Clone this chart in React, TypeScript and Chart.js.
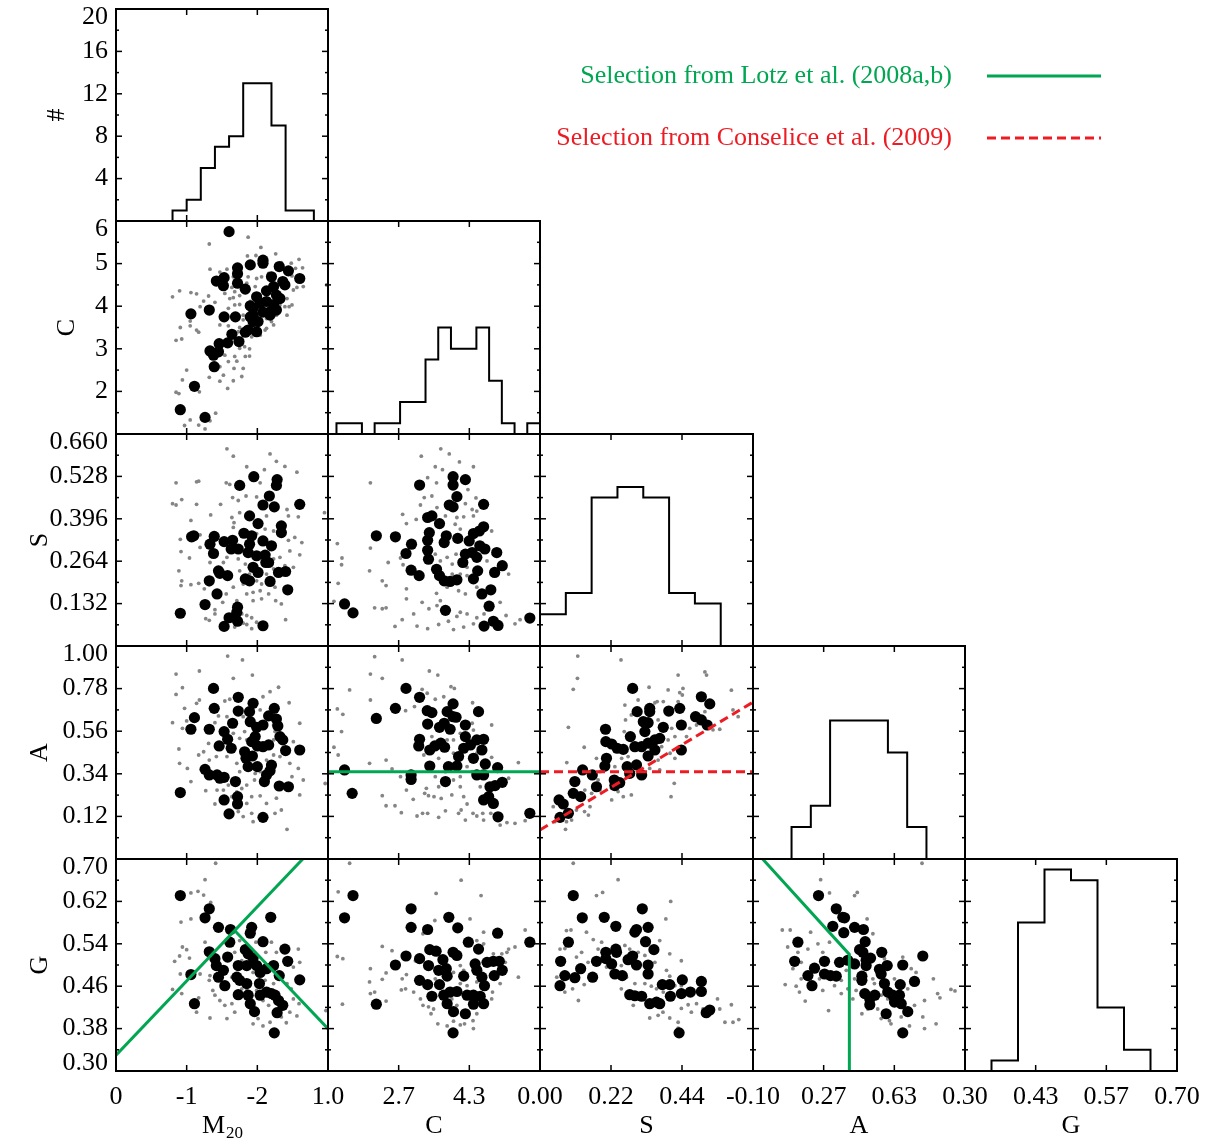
import React, { useEffect, useRef } from "react";
import { Chart, registerables } from "chart.js";
Chart.register(...registerables);

type Pair = [number, number];

const FONT_FAMILY = "'Liberation Serif', 'Times New Roman', Times, serif";
const LABEL_SIZE = 26;
const TITLE_SIZE = 26;
const TEXT_STRETCH = 1.0;
const GREEN = "#00a651";
const RED = "#ed1c24";
const GRAY = "#858585";

const COL_EDGES = [116, 328, 540, 753, 965, 1177];
const ROW_EDGES = [9, 221, 434, 646, 859, 1071];
const YTITLE_X = [57, 67, 40, 40, 40];

// ---- axes ----
const M20_TICKS = [0, -1, -2, -3];
const M20_TICK_LABELS = ["0", "-1", "-2", ""];
const C_X_TICKS = [1, 8 / 3, 13 / 3, 6];
const C_X_TICK_LABELS = ["1.0", "2.7", "4.3", ""];
const S_X_TICKS = [0, 0.22, 0.44, 0.66];
const S_X_TICK_LABELS = ["0.00", "0.22", "0.44", ""];
const A_X_TICKS = [-0.1, 0.8 / 3, 1.9 / 3, 1.0];
const A_X_TICK_LABELS = ["-0.10", "0.27", "0.63", ""];
const G_X_TICKS = [0.3, 1.3 / 3, 1.7 / 3, 0.7];
const G_X_TICK_LABELS = ["0.30", "0.43", "0.57", "0.70"];

const COUNT_Y_TICKS = [4, 8, 12, 16, 20];
const COUNT_Y_LABELS = ["4", "8", "12", "16", "20"];
const COUNT_Y_MINOR = [2, 6, 10, 14, 18];
const C_Y_TICKS = [2, 3, 4, 5, 6];
const C_Y_LABELS = ["2", "3", "4", "5", "6"];
const C_Y_MINOR = [1.5, 2.5, 3.5, 4.5, 5.5];
const S_Y_TICKS = [0.132, 0.264, 0.396, 0.528, 0.66];
const S_Y_LABELS = ["0.132", "0.264", "0.396", "0.528", "0.660"];
const S_Y_MINOR = [0.066, 0.198, 0.33, 0.462, 0.594];
const A_Y_TICKS = [0.12, 0.34, 0.56, 0.78, 1.0];
const A_Y_LABELS = ["0.12", "0.34", "0.56", "0.78", "1.00"];
const A_Y_MINOR = [0.01, 0.23, 0.45, 0.67, 0.89];
const G_Y_TICKS = [0.3, 0.38, 0.46, 0.54, 0.62, 0.7];
const G_Y_LABELS = ["0.30", "0.38", "0.46", "0.54", "0.62", "0.70"];
const G_Y_MINOR = [0.34, 0.42, 0.5, 0.58, 0.66];

const AXES: Record<string, any> = {
  M20: { min: -3, max: 0, reverse: true, xTicks: M20_TICKS, xLabels: M20_TICK_LABELS },
  C: { min: 1, max: 6, xTicks: C_X_TICKS, xLabels: C_X_TICK_LABELS, yTicks: C_Y_TICKS, yLabels: C_Y_LABELS, yMinor: C_Y_MINOR },
  S: { min: 0, max: 0.66, xTicks: S_X_TICKS, xLabels: S_X_TICK_LABELS, yTicks: S_Y_TICKS, yLabels: S_Y_LABELS, yMinor: S_Y_MINOR },
  A: { min: -0.1, max: 1.0, xTicks: A_X_TICKS, xLabels: A_X_TICK_LABELS, yTicks: A_Y_TICKS, yLabels: A_Y_LABELS, yMinor: A_Y_MINOR },
  G: { min: 0.3, max: 0.7, xTicks: G_X_TICKS, xLabels: G_X_TICK_LABELS, yTicks: G_Y_TICKS, yLabels: G_Y_LABELS, yMinor: G_Y_MINOR },
  "#": { min: 0, max: 20, yTicks: COUNT_Y_TICKS, yLabels: COUNT_Y_LABELS, yMinor: COUNT_Y_MINOR },
};
const COL_VARS = ["M20", "C", "S", "A", "G"];
const ROW_VARS = ["#", "C", "S", "A", "G"];
const Y_TITLES = ["#", "C", "S", "A", "G"];
const X_TITLES = ["M", "C", "S", "A", "G"];

// ---- histograms (black sample) ----
const M20_HIST_START = -0.8, M20_HIST_STEP = -0.2;
const M20_HIST_COUNTS = [1, 2, 5, 7, 8, 13, 13, 9, 1, 1];
const C_HIST_START = 1.2, C_HIST_STEP = 0.3;
const C_HIST_COUNTS = [1, 1, 0, 1, 1, 3, 3, 7, 10, 8, 8, 10, 5, 1, 0, 1];
const S_HIST_START = 0, S_HIST_STEP = 0.08;
const S_HIST_COUNTS = [3, 5, 14, 15, 14, 5, 4];
const A_HIST_START = 0.1, A_HIST_STEP = 0.1;
const A_HIST_COUNTS = [3, 5, 13, 13, 13, 10, 3];
const G_HIST_START = 0.35, G_HIST_STEP = 0.05;
const G_HIST_COUNTS = [1, 14, 19, 18, 6, 2];

// ---- selection criteria ----
const LOTZ_GM20_MERGER = { slope: -0.14, intercept: 0.33 };
const LOTZ_GM20_TYPE = { slope: 0.14, intercept: 0.8 };
const LOTZ_A_CUT = 0.35;
const LOTZ_GA = { slope: -0.4, intercept: 0.68, aCut: 0.4 };
const CONSELICE_A_CUT = 0.35;
const CONSELICE_AS = { slope: 1.0, intercept: 0.05 };

// ---- scatter data [x, y] ----
const C_M20_BLACK: Pair[] = [[-1.60,5.75],[-1.06,3.82],[-0.91,1.57],[-1.11,2.12],[-1.26,1.39],[-1.32,3.91],[-1.39,2.58],[-1.33,2.95],[-1.38,2.85],[-1.46,3.12],[-1.45,2.93],[-1.53,3.75],[-1.69,3.75],[-1.58,3.14],[-1.64,3.34],[-1.74,3.17],[-1.42,4.59],[-1.53,4.67],[-1.52,4.48],[-1.72,4.90],[-1.72,4.76],[-1.72,4.54],[-1.83,4.40],[-1.90,4.97],[-2.08,5.08],[-2.08,5.01],[-2.31,4.93],[-2.44,4.83],[-2.60,4.65],[-2.20,4.69],[-2.36,4.58],[-2.39,4.50],[-2.23,4.46],[-2.13,4.36],[-1.99,4.22],[-2.27,4.26],[-1.90,4.01],[-1.94,3.95],[-1.90,3.75],[-1.94,3.64],[-2.01,3.64],[-1.87,3.44],[-1.99,3.40],[-1.83,3.39],[-2.08,3.86],[-2.18,3.87],[-2.27,3.91],[-2.13,4.11],[-2.23,4.04],[-2.32,4.18],[-1.94,3.79],[-2.18,3.79],[-2.04,4.07]];
const C_M20_GRAY: Pair[] = [[-1.87,5.62],[-1.32,5.46],[-2.05,5.38],[-2.26,5.23],[-1.86,5.18],[-1.98,5.19],[-2.34,5.02],[-2.48,5.01],[-2.59,5.10],[-2.64,4.90],[-2.54,4.89],[-1.33,4.87],[-1.57,4.87],[-1.47,4.80],[-1.66,4.69],[-1.87,4.69],[-1.99,4.65],[-2.06,4.69],[-2.18,4.65],[-2.49,4.71],[-2.98,4.50],[-0.90,4.36],[-1.06,4.32],[-1.14,4.29],[-0.80,4.22],[-1.31,4.24],[-1.40,4.09],[-1.24,4.12],[-1.66,4.20],[-1.75,4.25],[-1.19,3.99],[-1.05,3.65],[-0.91,3.50],[-1.05,3.54],[-1.14,3.44],[-1.17,3.39],[-0.85,3.20],[-0.93,3.23],[-1.47,3.56],[-1.59,3.54],[-1.75,3.50],[-1.80,3.79],[-1.68,4.03],[-1.61,4.18],[-1.75,4.04],[-2.20,3.64],[-2.13,3.48],[-2.42,4.18],[-2.39,3.99],[-2.45,3.99],[-2.56,4.44],[-2.65,4.46],[-2.51,4.38],[-1.00,2.50],[-0.94,2.27],[-1.18,1.99],[-0.89,1.95],[-0.85,1.98],[-1.05,1.33],[-0.97,1.20],[-1.17,1.21],[-1.26,1.12],[-1.33,1.31],[-1.41,1.49],[-1.32,2.33],[-1.47,2.24],[-1.58,2.07],[-1.66,2.25],[-1.78,2.35],[-1.67,2.54],[-1.80,2.54],[-1.71,2.71],[-1.59,2.70],[-1.89,2.83],[-1.83,2.82],[-1.68,2.82],[-1.54,2.85],[-1.47,2.58],[-1.75,3.01],[-1.82,3.05],[-1.89,3.00],[-1.52,2.38],[-2.34,4.26],[-2.25,4.18],[-2.01,4.03],[-1.80,3.68],[-1.73,3.40],[-1.92,3.28],[-2.04,3.32],[-2.11,3.44],[-2.23,3.56],[-2.42,3.79],[-2.49,4.03],[-1.85,4.54],[-1.64,4.44],[-1.68,4.34],[-1.54,4.30],[-1.59,3.95],[-1.97,4.46],[-2.16,4.77],[-2.11,4.07],[-1.90,4.11],[-1.99,3.79],[-2.04,3.64],[-2.13,3.71],[-2.32,4.03],[-2.27,3.79],[-1.92,3.56],[-1.85,3.40]];

const S_M20_BLACK: Pair[] = [[-1.95,0.527],[-1.75,0.500],[-2.28,0.518],[-2.27,0.500],[-2.17,0.467],[-2.08,0.439],[-2.24,0.433],[-2.60,0.441],[-1.89,0.405],[-2.01,0.381],[-2.34,0.374],[-2.34,0.353],[-1.07,0.340],[-1.10,0.343],[-1.39,0.341],[-1.33,0.317],[-1.53,0.325],[-1.65,0.329],[-1.38,0.288],[-1.63,0.302],[-1.73,0.302],[-1.81,0.351],[-1.92,0.343],[-1.89,0.317],[-2.08,0.327],[-2.20,0.312],[-1.87,0.291],[-1.99,0.281],[-2.11,0.283],[-2.16,0.260],[-1.94,0.245],[-2.01,0.229],[-1.45,0.234],[-1.47,0.226],[-1.58,0.219],[-1.83,0.209],[-1.89,0.203],[-1.32,0.203],[-2.18,0.201],[-2.30,0.229],[-2.40,0.232],[-2.43,0.175],[-1.43,0.162],[-1.26,0.129],[-0.91,0.102],[-1.72,0.121],[-1.71,0.105],[-1.60,0.088],[-1.72,0.077],[-1.53,0.061],[-2.08,0.063],[-2.12,0.260]];
const S_M20_GRAY: Pair[] = [[-1.57,0.614],[-1.66,0.591],[-2.18,0.598],[-2.27,0.575],[-2.39,0.559],[-2.56,0.541],[-1.85,0.558],[-2.10,0.549],[-0.85,0.508],[-1.14,0.511],[-1.17,0.513],[-1.56,0.508],[-1.61,0.503],[-2.04,0.508],[-0.93,0.456],[-0.80,0.443],[-0.85,0.439],[-1.14,0.441],[-1.48,0.441],[-1.65,0.462],[-1.73,0.453],[-1.84,0.467],[-1.99,0.464],[-1.06,0.391],[-1.34,0.408],[-1.64,0.400],[-1.75,0.415],[-2.13,0.405],[-2.42,0.425],[-2.44,0.405],[-2.58,0.402],[-0.91,0.332],[-1.19,0.346],[-1.66,0.369],[-1.67,0.384],[-1.99,0.350],[-2.11,0.364],[-2.44,0.329],[-2.53,0.338],[-2.63,0.322],[-2.60,0.284],[-2.46,0.296],[-1.04,0.274],[-0.92,0.294],[-1.19,0.307],[-1.33,0.260],[-1.52,0.260],[-1.57,0.276],[-1.73,0.271],[-1.83,0.255],[-2.16,0.286],[-2.23,0.271],[-2.32,0.276],[-2.39,0.250],[-2.51,0.245],[-0.89,0.234],[-0.93,0.203],[-0.92,0.188],[-1.06,0.191],[-1.17,0.195],[-1.25,0.178],[-1.32,0.191],[-1.66,0.183],[-1.80,0.193],[-1.94,0.167],[-2.04,0.172],[-2.16,0.162],[-2.06,0.147],[-2.26,0.141],[-2.34,0.131],[-1.94,0.141],[-1.56,0.162],[-1.40,0.113],[-1.51,0.136],[-1.27,0.085],[-1.32,0.080],[-1.78,0.100],[-1.85,0.095],[-1.92,0.088],[-1.75,0.085],[-1.80,0.071],[-1.85,0.067],[-1.92,0.054],[-1.68,0.059],[-1.99,0.074],[-2.40,0.082],[-1.40,0.100],[-1.71,0.141],[-1.85,0.162],[-1.99,0.203],[-2.13,0.224],[-2.23,0.240],[-1.89,0.224],[-1.75,0.234],[-2.06,0.193],[-2.25,0.183],[-2.16,0.317],[-2.23,0.358],[-2.95,0.415]];

const S_C_BLACK: Pair[] = [[1.39,0.131],[1.59,0.103],[2.14,0.343],[2.59,0.340],[2.97,0.317],[2.84,0.288],[2.96,0.236],[3.15,0.219],[3.16,0.501],[3.95,0.527],[3.95,0.501],[4.24,0.518],[4.04,0.465],[3.86,0.439],[3.95,0.433],[4.67,0.441],[3.35,0.400],[3.45,0.405],[3.63,0.381],[3.39,0.353],[3.35,0.329],[3.79,0.343],[3.74,0.322],[4.06,0.335],[4.33,0.327],[4.43,0.350],[4.57,0.358],[4.67,0.371],[3.35,0.298],[3.37,0.270],[4.58,0.312],[4.70,0.302],[4.98,0.291],[4.24,0.286],[4.40,0.291],[4.51,0.276],[4.18,0.260],[3.56,0.239],[3.63,0.219],[3.74,0.203],[3.88,0.201],[4.04,0.206],[4.53,0.234],[4.43,0.209],[4.93,0.229],[5.11,0.250],[4.84,0.175],[4.63,0.162],[4.80,0.124],[3.77,0.111],[4.68,0.062],[4.90,0.077],[5.01,0.064],[5.76,0.087]];
const S_C_GRAY: Pair[] = [[3.66,0.614],[3.86,0.598],[3.20,0.591],[4.10,0.573],[4.43,0.558],[3.53,0.558],[3.70,0.549],[2.00,0.508],[3.35,0.524],[3.56,0.508],[4.30,0.487],[3.45,0.467],[3.27,0.462],[4.49,0.461],[3.18,0.439],[3.57,0.431],[4.24,0.443],[4.40,0.425],[4.51,0.420],[2.76,0.410],[3.08,0.394],[3.77,0.405],[4.04,0.400],[4.20,0.402],[4.43,0.405],[4.00,0.379],[4.12,0.364],[4.86,0.358],[2.85,0.381],[1.22,0.319],[2.00,0.305],[2.71,0.274],[2.77,0.253],[2.42,0.260],[1.33,0.274],[1.32,0.253],[1.98,0.234],[2.28,0.203],[2.37,0.188],[1.24,0.195],[1.14,0.139],[2.10,0.119],[2.28,0.116],[2.37,0.119],[2.85,0.178],[2.85,0.147],[3.02,0.100],[3.22,0.136],[3.38,0.116],[3.56,0.164],[3.57,0.126],[2.58,0.061],[2.75,0.082],[3.10,0.062],[3.35,0.054],[3.61,0.067],[3.84,0.077],[4.04,0.092],[3.96,0.051],[4.20,0.059],[4.12,0.105],[4.28,0.100],[4.43,0.069],[4.51,0.088],[4.68,0.100],[5.06,0.136],[5.20,0.095],[5.41,0.069],[5.53,0.082],[3.81,0.276],[3.93,0.255],[4.12,0.224],[4.28,0.245],[4.02,0.286],[3.65,0.265],[3.53,0.286],[4.08,0.172],[4.24,0.162],[4.51,0.183],[3.81,0.183],[3.65,0.141],[4.75,0.265],[4.90,0.286],[5.26,0.224],[4.28,0.219],[3.93,0.224]];

const A_M20_BLACK: Pair[] = [[-1.38,0.781],[-1.73,0.735],[-1.39,0.678],[-1.73,0.664],[-1.94,0.704],[-1.89,0.661],[-1.11,0.630],[-1.06,0.570],[-1.32,0.570],[-1.65,0.601],[-1.90,0.609],[-1.99,0.580],[-2.08,0.592],[-2.24,0.678],[-2.16,0.639],[-2.27,0.623],[-2.29,0.587],[-1.53,0.558],[-1.58,0.518],[-1.46,0.484],[-1.63,0.472],[-1.97,0.532],[-1.92,0.506],[-2.00,0.484],[-2.08,0.480],[-2.16,0.489],[-2.32,0.532],[-2.36,0.515],[-2.40,0.460],[-2.60,0.463],[-1.82,0.454],[-1.84,0.420],[-1.93,0.432],[-1.87,0.377],[-2.00,0.377],[-2.20,0.385],[-2.18,0.356],[-2.13,0.334],[-2.10,0.300],[-1.26,0.363],[-1.32,0.334],[-1.43,0.334],[-1.47,0.317],[-1.53,0.322],[-1.69,0.300],[-2.31,0.277],[-2.44,0.273],[-0.91,0.243],[-1.53,0.205],[-1.72,0.222],[-1.72,0.184],[-1.60,0.133],[-2.08,0.115]];
const A_M20_GRAY: Pair[] = [[-1.58,0.948],[-1.79,0.928],[-0.85,0.855],[-1.18,0.871],[-1.66,0.833],[-1.93,0.850],[-0.94,0.785],[-0.85,0.750],[-2.30,0.787],[-2.18,0.764],[-2.45,0.707],[-1.18,0.721],[-1.14,0.704],[-0.97,0.678],[-1.54,0.716],[-1.61,0.725],[-2.08,0.738],[-0.80,0.604],[-1.00,0.613],[-0.94,0.575],[-0.89,0.468],[-0.90,0.394],[-1.01,0.368],[-1.06,0.300],[-1.17,0.437],[-1.32,0.411],[-1.27,0.253],[-1.40,0.184],[-1.59,0.282],[-1.64,0.222],[-1.71,0.247],[-1.78,0.264],[-1.85,0.282],[-1.96,0.308],[-2.04,0.226],[-1.92,0.222],[-1.85,0.187],[-1.92,0.136],[-1.94,0.093],[-1.80,0.119],[-1.73,0.145],[-2.13,0.187],[-2.25,0.136],[-2.34,0.153],[-2.42,0.053],[-2.49,0.325],[-2.60,0.231],[-2.58,0.368],[-2.46,0.394],[-2.60,0.601],[-2.51,0.506],[-2.42,0.471],[-2.32,0.429],[-2.23,0.437],[-2.25,0.558],[-2.23,0.592],[-2.04,0.670],[-1.80,0.635],[-1.82,0.558],[-1.85,0.515],[-1.75,0.523],[-1.66,0.549],[-1.57,0.635],[-1.45,0.639],[-1.40,0.604],[-1.31,0.497],[-1.24,0.454],[-1.42,0.429],[-1.57,0.429],[-1.71,0.394],[-1.75,0.351],[-1.97,0.342],[-2.04,0.351],[-2.13,0.411],[-2.23,0.515],[-1.43,0.256],[-1.52,0.256],[-2.65,0.308],[-2.27,0.214],[-2.96,0.290]];

const A_C_BLACK: Pair[] = [[2.84,0.781],[3.16,0.735],[2.59,0.678],[2.14,0.626],[3.34,0.666],[3.45,0.656],[3.95,0.701],[3.81,0.661],[4.55,0.661],[3.95,0.635],[4.02,0.632],[3.35,0.597],[3.63,0.580],[3.74,0.601],[3.88,0.570],[4.24,0.592],[3.16,0.518],[3.14,0.484],[3.40,0.463],[3.52,0.484],[3.66,0.498],[3.75,0.477],[4.24,0.532],[4.20,0.472],[4.36,0.489],[4.51,0.515],[4.67,0.518],[4.63,0.463],[4.08,0.429],[4.43,0.420],[4.71,0.391],[5.00,0.372],[3.40,0.380],[3.84,0.377],[4.04,0.380],[2.96,0.334],[2.96,0.311],[3.77,0.300],[4.51,0.334],[4.67,0.334],[5.11,0.296],[4.82,0.273],[4.94,0.279],[4.79,0.222],[4.67,0.205],[4.90,0.187],[5.01,0.118],[5.76,0.136],[1.39,0.360],[1.57,0.239]];
const A_C_GRAY: Pair[] = [[2.10,0.945],[2.75,0.928],[2.00,0.855],[2.28,0.833],[3.39,0.871],[3.59,0.850],[1.51,0.773],[2.00,0.721],[1.22,0.675],[1.35,0.647],[1.32,0.558],[1.14,0.477],[1.24,0.437],[1.98,0.394],[2.37,0.411],[2.51,0.365],[2.71,0.325],[2.85,0.256],[2.28,0.227],[2.37,0.175],[2.58,0.175],[2.73,0.139],[3.01,0.208],[3.10,0.122],[3.23,0.136],[3.35,0.136],[2.83,0.666],[3.04,0.687],[3.22,0.776],[3.34,0.756],[3.53,0.725],[3.73,0.738],[3.90,0.790],[3.98,0.781],[4.41,0.707],[4.40,0.601],[4.43,0.566],[4.86,0.592],[3.45,0.532],[3.26,0.437],[3.61,0.420],[3.53,0.325],[3.77,0.351],[3.61,0.273],[3.32,0.265],[3.28,0.239],[3.37,0.227],[3.50,0.222],[3.67,0.213],[3.77,0.149],[3.61,0.115],[3.92,0.231],[4.12,0.273],[4.20,0.222],[4.28,0.184],[4.14,0.153],[4.24,0.101],[4.08,0.136],[4.42,0.136],[4.51,0.122],[4.65,0.136],[4.67,0.101],[4.84,0.136],[5.06,0.075],[5.22,0.088],[5.41,0.084],[5.65,0.098],[5.26,0.317],[5.49,0.398],[4.86,0.425],[3.96,0.515],[4.12,0.549],[4.32,0.506],[4.51,0.446],[3.96,0.446],[3.81,0.515],[4.28,0.377],[4.40,0.351],[3.96,0.308],[4.12,0.325],[4.59,0.273]];

const A_S_BLACK: Pair[] = [[0.287,0.781],[0.301,0.661],[0.340,0.678],[0.340,0.661],[0.320,0.609],[0.335,0.604],[0.325,0.558],[0.382,0.580],[0.399,0.664],[0.433,0.678],[0.438,0.592],[0.482,0.635],[0.500,0.738],[0.526,0.701],[0.500,0.618],[0.518,0.592],[0.203,0.570],[0.204,0.506],[0.222,0.494],[0.239,0.472],[0.258,0.466],[0.280,0.532],[0.294,0.480],[0.315,0.480],[0.335,0.498],[0.356,0.515],[0.371,0.523],[0.335,0.432],[0.356,0.463],[0.438,0.463],[0.206,0.420],[0.201,0.380],[0.270,0.377],[0.299,0.386],[0.278,0.342],[0.315,0.334],[0.132,0.360],[0.162,0.334],[0.108,0.300],[0.175,0.273],[0.230,0.308],[0.232,0.279],[0.247,0.294],[0.103,0.239],[0.126,0.222],[0.059,0.205],[0.072,0.184],[0.088,0.136],[0.062,0.115]];
const A_S_GRAY: Pair[] = [[0.117,0.948],[0.251,0.928],[0.116,0.833],[0.103,0.776],[0.428,0.850],[0.511,0.866],[0.338,0.787],[0.443,0.781],[0.593,0.772],[0.441,0.747],[0.382,0.713],[0.428,0.713],[0.304,0.721],[0.263,0.695],[0.265,0.618],[0.283,0.644],[0.261,0.558],[0.088,0.580],[0.137,0.477],[0.175,0.420],[0.083,0.398],[0.186,0.351],[0.356,0.707],[0.366,0.618],[0.408,0.575],[0.397,0.515],[0.418,0.532],[0.454,0.532],[0.464,0.575],[0.485,0.592],[0.511,0.661],[0.536,0.567],[0.557,0.570],[0.614,0.635],[0.598,0.670],[0.516,0.850],[0.433,0.759],[0.397,0.773],[0.363,0.713],[0.377,0.480],[0.403,0.446],[0.418,0.420],[0.366,0.411],[0.371,0.360],[0.340,0.368],[0.416,0.291],[0.406,0.222],[0.283,0.231],[0.242,0.248],[0.222,0.265],[0.186,0.256],[0.160,0.239],[0.139,0.256],[0.155,0.170],[0.138,0.145],[0.150,0.127],[0.113,0.153],[0.098,0.101],[0.079,0.053],[0.082,0.093],[0.046,0.093],[0.041,0.170],[0.273,0.429],[0.253,0.420],[0.232,0.377],[0.180,0.308],[0.222,0.205],[0.258,0.222]];

const G_M20_BLACK: Pair[] = [[-0.91,0.631],[-1.32,0.606],[-1.26,0.589],[-1.45,0.571],[-1.62,0.567],[-1.61,0.543],[-1.92,0.571],[-1.90,0.560],[-2.19,0.590],[-2.08,0.544],[-1.32,0.525],[-1.40,0.512],[-1.58,0.515],[-1.42,0.499],[-1.52,0.490],[-1.45,0.477],[-1.54,0.461],[-1.73,0.499],[-1.83,0.529],[-1.87,0.521],[-1.94,0.513],[-1.85,0.499],[-1.99,0.499],[-2.04,0.486],[-2.13,0.493],[-2.23,0.499],[-1.71,0.477],[-1.75,0.471],[-1.73,0.444],[-1.85,0.465],[-2.03,0.465],[-1.87,0.443],[-1.90,0.427],[-1.96,0.412],[-2.04,0.443],[-2.13,0.449],[-2.20,0.446],[-2.25,0.443],[-2.30,0.433],[-2.36,0.424],[-2.28,0.410],[-2.31,0.480],[-2.39,0.530],[-2.43,0.507],[-2.60,0.472],[-1.06,0.482],[-1.11,0.427],[-2.24,0.372]];
const G_M20_GRAY: Pair[] = [[-1.41,0.692],[-1.26,0.661],[-1.06,0.636],[-1.16,0.639],[-1.24,0.632],[-0.92,0.581],[-1.06,0.587],[-1.34,0.618],[-0.83,0.507],[-0.90,0.517],[-0.94,0.534],[-1.00,0.529],[-1.04,0.513],[-0.91,0.483],[-0.80,0.454],[-0.93,0.446],[-1.17,0.438],[-1.14,0.411],[-1.33,0.480],[-1.32,0.471],[-1.37,0.452],[-1.40,0.443],[-1.47,0.433],[-1.54,0.424],[-1.64,0.427],[-1.68,0.411],[-1.33,0.400],[-1.57,0.399],[-1.71,0.443],[-1.78,0.455],[-1.85,0.452],[-1.99,0.452],[-2.08,0.433],[-2.16,0.424],[-2.01,0.399],[-1.94,0.389],[-2.08,0.385],[-2.18,0.392],[-2.34,0.402],[-2.41,0.391],[-2.46,0.411],[-2.56,0.404],[-2.59,0.427],[-2.51,0.436],[-2.48,0.455],[-2.58,0.530],[-2.60,0.505],[-2.51,0.496],[-2.34,0.474],[-2.20,0.543],[-2.12,0.524],[-2.27,0.524],[-1.98,0.543],[-1.68,0.524],[-1.75,0.546],[-1.19,0.483],[-1.26,0.543],[-2.42,0.465],[-2.23,0.465],[-2.11,0.471],[-1.94,0.486],[-1.64,0.477],[-1.78,0.508],[-2.97,0.414]];

const G_C_BLACK: Pair[] = [[1.59,0.631],[1.39,0.589],[2.96,0.606],[2.96,0.571],[3.35,0.567],[3.85,0.590],[4.06,0.570],[5.00,0.560],[5.76,0.543],[4.31,0.543],[4.55,0.530],[2.59,0.500],[2.84,0.517],[3.16,0.512],[3.40,0.529],[3.55,0.526],[3.37,0.499],[3.71,0.510],[3.95,0.524],[4.04,0.518],[3.79,0.493],[3.81,0.479],[3.61,0.490],[3.16,0.471],[3.35,0.463],[3.63,0.463],[3.45,0.441],[3.73,0.443],[3.88,0.449],[4.04,0.450],[4.20,0.479],[4.47,0.502],[4.51,0.490],[4.63,0.477],[4.69,0.461],[4.75,0.505],[4.90,0.507],[5.04,0.507],[4.92,0.480],[5.11,0.490],[4.28,0.443],[4.43,0.443],[4.59,0.441],[4.43,0.426],[4.67,0.427],[3.81,0.427],[3.96,0.412],[4.24,0.408],[3.95,0.372],[2.14,0.426]];
const G_C_GRAY: Pair[] = [[1.51,0.692],[1.24,0.638],[3.55,0.635],[4.14,0.660],[4.61,0.631],[4.35,0.587],[3.52,0.584],[3.24,0.559],[4.67,0.562],[5.65,0.566],[5.26,0.530],[5.41,0.534],[2.28,0.535],[2.51,0.527],[1.22,0.516],[1.35,0.512],[2.00,0.493],[2.28,0.473],[1.98,0.468],[2.37,0.485],[2.75,0.474],[2.73,0.453],[2.83,0.455],[2.85,0.482],[2.00,0.446],[2.10,0.449],[2.37,0.432],[1.34,0.426],[3.06,0.508],[3.24,0.424],[3.37,0.421],[3.49,0.417],[3.43,0.408],[3.59,0.389],[3.81,0.385],[3.96,0.394],[4.12,0.387],[4.22,0.389],[4.42,0.395],[4.43,0.380],[4.51,0.408],[4.86,0.436],[4.88,0.449],[5.06,0.465],[5.18,0.505],[5.49,0.477],[5.22,0.524],[5.10,0.521],[4.90,0.521],[4.67,0.540],[4.51,0.546],[4.12,0.499],[4.20,0.490],[3.96,0.486],[4.28,0.461],[4.12,0.465],[4.35,0.449],[4.51,0.468],[3.92,0.436],[4.04,0.424],[3.92,0.405],[3.02,0.449],[3.18,0.436],[3.53,0.474]];

const G_S_BLACK: Pair[] = [[0.103,0.631],[0.131,0.589],[0.199,0.590],[0.235,0.573],[0.317,0.606],[0.335,0.571],[0.294,0.562],[0.299,0.567],[0.327,0.544],[0.353,0.529],[0.088,0.543],[0.064,0.507],[0.077,0.480],[0.062,0.461],[0.108,0.476],[0.126,0.493],[0.163,0.477],[0.175,0.507],[0.204,0.524],[0.204,0.512],[0.222,0.502],[0.235,0.530],[0.237,0.524],[0.232,0.483],[0.255,0.480],[0.273,0.510],[0.287,0.517],[0.299,0.500],[0.335,0.500],[0.335,0.483],[0.278,0.444],[0.294,0.442],[0.315,0.441],[0.340,0.427],[0.361,0.430],[0.371,0.427],[0.379,0.463],[0.402,0.463],[0.404,0.441],[0.441,0.472],[0.438,0.446],[0.466,0.449],[0.500,0.469],[0.500,0.450],[0.515,0.410],[0.526,0.415],[0.431,0.372]];
const G_S_GRAY: Pair[] = [[0.103,0.692],[0.242,0.661],[0.175,0.631],[0.194,0.637],[0.405,0.620],[0.390,0.587],[0.082,0.565],[0.096,0.566],[0.144,0.562],[0.062,0.530],[0.077,0.531],[0.067,0.480],[0.052,0.477],[0.062,0.455],[0.077,0.449],[0.119,0.433],[0.101,0.455],[0.137,0.463],[0.165,0.548],[0.180,0.530],[0.191,0.543],[0.129,0.524],[0.149,0.505],[0.113,0.515],[0.263,0.537],[0.278,0.530],[0.304,0.524],[0.371,0.546],[0.402,0.521],[0.438,0.508],[0.392,0.490],[0.418,0.461],[0.438,0.461],[0.402,0.479],[0.345,0.460],[0.325,0.465],[0.294,0.465],[0.268,0.477],[0.252,0.455],[0.289,0.424],[0.340,0.400],[0.366,0.405],[0.381,0.411],[0.402,0.400],[0.438,0.418],[0.459,0.425],[0.485,0.427],[0.469,0.411],[0.428,0.392],[0.428,0.381],[0.550,0.436],[0.557,0.417],[0.593,0.425],[0.573,0.392],[0.598,0.392],[0.616,0.397],[0.505,0.417],[0.361,0.455],[0.382,0.449],[0.206,0.496],[0.252,0.499],[0.325,0.518],[0.356,0.505]];

const G_A_BLACK: Pair[] = [[0.240,0.631],[0.332,0.606],[0.366,0.590],[0.375,0.589],[0.314,0.573],[0.371,0.561],[0.427,0.571],[0.473,0.567],[0.482,0.544],[0.453,0.529],[0.470,0.524],[0.568,0.524],[0.781,0.517],[0.133,0.543],[0.116,0.507],[0.219,0.494],[0.185,0.480],[0.206,0.461],[0.271,0.507],[0.271,0.483],[0.302,0.480],[0.332,0.479],[0.349,0.505],[0.392,0.509],[0.427,0.502],[0.487,0.509],[0.510,0.513],[0.487,0.499],[0.556,0.492],[0.596,0.499],[0.677,0.500],[0.465,0.479],[0.465,0.471],[0.565,0.483],[0.582,0.465],[0.664,0.463],[0.738,0.469],[0.480,0.446],[0.506,0.436],[0.532,0.443],[0.506,0.425],[0.599,0.449],[0.625,0.443],[0.634,0.430],[0.660,0.443],[0.669,0.427],[0.591,0.408],[0.703,0.412],[0.677,0.372]];
const G_A_GRAY: Pair[] = [[0.251,0.661],[0.297,0.636],[0.427,0.631],[0.441,0.637],[0.777,0.692],[0.522,0.559],[0.492,0.587],[0.052,0.566],[0.093,0.566],[0.199,0.562],[0.080,0.534],[0.133,0.524],[0.185,0.530],[0.237,0.540],[0.262,0.524],[0.297,0.543],[0.150,0.505],[0.107,0.493],[0.150,0.474],[0.067,0.463],[0.124,0.460],[0.141,0.449],[0.171,0.432],[0.206,0.490],[0.245,0.474],[0.262,0.452],[0.323,0.461],[0.358,0.471],[0.392,0.455],[0.418,0.436],[0.435,0.452],[0.384,0.490],[0.358,0.446],[0.292,0.414],[0.465,0.408],[0.496,0.417],[0.530,0.465],[0.547,0.417],[0.565,0.399],[0.608,0.395],[0.616,0.389],[0.669,0.402],[0.712,0.385],[0.703,0.411],[0.738,0.424],[0.790,0.433],[0.781,0.402],[0.790,0.380],[0.850,0.389],[0.870,0.438],[0.836,0.474],[0.858,0.446],[0.927,0.454],[0.948,0.451],[0.677,0.515],[0.721,0.493],[0.746,0.486],[0.582,0.512],[0.616,0.499],[0.634,0.474],[0.703,0.455],[0.599,0.436],[0.565,0.443],[0.522,0.474],[0.427,0.474]];

// ---------------------------------------------------------------
const toXY = (p: Pair[]) => p.map(([x, y]) => ({ x, y }));

function histPoints(start: number, step: number, counts: number[]) {
  const pts: { x: number; y: number }[] = [{ x: start, y: 0 }];
  counts.forEach((c, i) => pts.push({ x: start + i * step, y: c }));
  pts.push({ x: start + counts.length * step, y: 0 });
  return pts;
}

function lineSet(pts: Pair[], color: string, dash?: number[]) {
  return {
    type: "line", data: toXY(pts), borderColor: color, borderWidth: 3,
    borderDash: dash || [], pointRadius: 0, fill: false, tension: 0, borderCapStyle: "butt",
  };
}
function pointSets(gray: Pair[], black: Pair[]) {
  return [
    { type: "scatter", data: toXY(black), pointRadius: 5.6, pointBackgroundColor: "#000", pointBorderWidth: 0, pointHoverRadius: 5.6 },
    { type: "scatter", data: toXY(gray), pointRadius: 1.9, pointBackgroundColor: GRAY, pointBorderWidth: 0, pointHoverRadius: 1.9 },
  ];
}
function histSet(start: number, step: number, counts: number[]) {
  return [{ type: "line", data: histPoints(start, step, counts), stepped: "before", borderColor: "#000", borderWidth: 2, pointRadius: 0, fill: false }];
}

const gm20ApexX = (LOTZ_GM20_TYPE.intercept - LOTZ_GM20_MERGER.intercept) / (LOTZ_GM20_MERGER.slope - LOTZ_GM20_TYPE.slope);
const gm20TopX = (AXES.G.max - LOTZ_GM20_MERGER.intercept) / LOTZ_GM20_MERGER.slope;
const gaTopX = (AXES.G.max - LOTZ_GA.intercept) / LOTZ_GA.slope;

const PANELS: { row: number; col: number; datasets: any[] }[] = [
  { row: 0, col: 0, datasets: histSet(M20_HIST_START, M20_HIST_STEP, M20_HIST_COUNTS) },
  { row: 1, col: 0, datasets: pointSets(C_M20_GRAY, C_M20_BLACK) },
  { row: 1, col: 1, datasets: histSet(C_HIST_START, C_HIST_STEP, C_HIST_COUNTS) },
  { row: 2, col: 0, datasets: pointSets(S_M20_GRAY, S_M20_BLACK) },
  { row: 2, col: 1, datasets: pointSets(S_C_GRAY, S_C_BLACK) },
  { row: 2, col: 2, datasets: histSet(S_HIST_START, S_HIST_STEP, S_HIST_COUNTS) },
  { row: 3, col: 0, datasets: pointSets(A_M20_GRAY, A_M20_BLACK) },
  {
    row: 3, col: 1, datasets: [
      lineSet([[AXES.C.min, LOTZ_A_CUT], [AXES.C.max, LOTZ_A_CUT]], GREEN),
      ...pointSets(A_C_GRAY, A_C_BLACK)],
  },
  {
    row: 3, col: 2, datasets: [
      lineSet([[AXES.S.min, CONSELICE_A_CUT], [AXES.S.max, CONSELICE_A_CUT]], RED, [9, 5]),
      lineSet([[AXES.S.min, CONSELICE_AS.intercept + CONSELICE_AS.slope * AXES.S.min],
        [AXES.S.max, CONSELICE_AS.intercept + CONSELICE_AS.slope * AXES.S.max]], RED, [9, 5]),
      ...pointSets(A_S_GRAY, A_S_BLACK)],
  },
  { row: 3, col: 3, datasets: histSet(A_HIST_START, A_HIST_STEP, A_HIST_COUNTS) },
  {
    row: 4, col: 0, datasets: [
      lineSet([[0, LOTZ_GM20_MERGER.intercept], [gm20TopX, AXES.G.max]], GREEN),
      lineSet([[gm20ApexX, LOTZ_GM20_TYPE.slope * gm20ApexX + LOTZ_GM20_TYPE.intercept],
        [AXES.M20.min, LOTZ_GM20_TYPE.slope * AXES.M20.min + LOTZ_GM20_TYPE.intercept]], GREEN),
      ...pointSets(G_M20_GRAY, G_M20_BLACK)],
  },
  { row: 4, col: 1, datasets: pointSets(G_C_GRAY, G_C_BLACK) },
  { row: 4, col: 2, datasets: pointSets(G_S_GRAY, G_S_BLACK) },
  {
    row: 4, col: 3, datasets: [
      lineSet([[gaTopX, AXES.G.max], [LOTZ_GA.aCut, LOTZ_GA.slope * LOTZ_GA.aCut + LOTZ_GA.intercept], [LOTZ_GA.aCut, AXES.G.min]], GREEN),
      ...pointSets(G_A_GRAY, G_A_BLACK)],
  },
  { row: 4, col: 4, datasets: histSet(G_HIST_START, G_HIST_STEP, G_HIST_COUNTS) },
];

function drawText(ctx: CanvasRenderingContext2D, text: string, x: number, y: number, align: CanvasTextAlign,
  size: number, color = "#000", rotate = false) {
  ctx.save();
  ctx.translate(x, y);
  ctx.scale(TEXT_STRETCH, 1);
  if (rotate) ctx.rotate(-Math.PI / 2);
  ctx.font = `${size}px ${FONT_FAMILY}`;
  ctx.textAlign = align;
  ctx.textBaseline = "middle";
  ctx.fillStyle = color;
  ctx.fillText(text, 0, 0);
  ctx.restore();
}

function makePlugin(row: number, col: number, ox: number, oy: number) {
  const xv = COL_VARS[col];
  const yv = row === col ? "#" : ROW_VARS[row];
  return {
    id: `corner_${row}_${col}`,
    afterDatasetsDraw(chart: any) {
      const ctx: CanvasRenderingContext2D = chart.ctx;
      const a = chart.chartArea;
      const xs = chart.scales.x, ys = chart.scales.y;
      const xa = AXES[xv], ya = AXES[yv];
      ctx.save();
      ctx.strokeStyle = "#000";
      const seg = (x1: number, y1: number, x2: number, y2: number) => {
        ctx.beginPath(); ctx.moveTo(x1, y1); ctx.lineTo(x2, y2); ctx.stroke();
      };
      const inner = (v: number, ax: any) => Math.abs(v - ax.min) > 1e-6 && Math.abs(v - ax.max) > 1e-6;
      ctx.lineWidth = 1.5;
      for (const v of xa.xTicks) if (inner(v, xa)) {
        const px = xs.getPixelForValue(v);
        seg(px, a.bottom, px, a.bottom - 6); seg(px, a.top, px, a.top + 6);
      }
      for (const v of ya.yTicks) if (inner(v, ya)) {
        const py = ys.getPixelForValue(v);
        seg(a.left, py, a.left + 6, py); seg(a.right, py, a.right - 6, py);
      }
      for (const v of ya.yMinor) {
        const py = ys.getPixelForValue(v);
        seg(a.left, py, a.left + 3, py); seg(a.right, py, a.right - 3, py);
      }
      ctx.lineWidth = 2;
      ctx.strokeRect(a.left, a.top, a.right - a.left, a.bottom - a.top);

      if (col === 0) {
        const ly = AXES[ROW_VARS[row]];
        ly.yTicks.forEach((v: number, i: number) => {
          let py = ys.getPixelForValue(v);
          py = Math.max(py, a.top + 8);
          py = Math.min(py, a.bottom - 8);
          drawText(ctx, ly.yLabels[i], a.left - 8, py, "right", LABEL_SIZE);
        });
        drawText(ctx, Y_TITLES[row], YTITLE_X[row] - ox, (a.top + a.bottom) / 2, "center", TITLE_SIZE, "#000", true);
      }
      if (row === 4) {
        xa.xTicks.forEach((v: number, i: number) => {
          if (!xa.xLabels[i]) return;
          drawText(ctx, xa.xLabels[i], xs.getPixelForValue(v), a.bottom + 26, "center", LABEL_SIZE);
        });
        const cx = (a.left + a.right) / 2;
        const ty = a.bottom + 55;
        if (col === 0) {
          ctx.save();
          ctx.font = `${TITLE_SIZE}px ${FONT_FAMILY}`;
          const wM = ctx.measureText(X_TITLES[0]).width * TEXT_STRETCH;
          ctx.font = `17px ${FONT_FAMILY}`;
          const wS = ctx.measureText("20").width * TEXT_STRETCH;
          ctx.restore();
          const x0 = cx - (wM + wS) / 2;
          drawText(ctx, X_TITLES[0], x0, ty, "left", TITLE_SIZE);
          drawText(ctx, "20", x0 + wM + 1, ty + 8, "left", 17);
        } else {
          drawText(ctx, X_TITLES[col], cx, ty, "center", TITLE_SIZE);
        }
      }
      if (row === 0 && col === 0) {
        const items = [
          { text: "Selection from Lotz et al. (2008a,b)", color: GREEN, dash: [] as number[], y: 76 },
          { text: "Selection from Conselice et al. (2009)", color: RED, dash: [9, 5], y: 138 },
        ];
        for (const it of items) {
          drawText(ctx, it.text, 952 - ox, it.y - oy, "right", LABEL_SIZE, it.color);
          ctx.save();
          ctx.strokeStyle = it.color; ctx.lineWidth = 3; ctx.setLineDash(it.dash);
          seg(987 - ox, it.y - oy, 1101 - ox, it.y - oy);
          ctx.restore();
        }
      }
      ctx.restore();
    },
  };
}

function Panel({ row, col, datasets }: { row: number; col: number; datasets: any[] }) {
  const ref = useRef<HTMLCanvasElement>(null);
  const left = COL_EDGES[col], right = COL_EDGES[col + 1];
  const top = ROW_EDGES[row], bottom = ROW_EDGES[row + 1];
  const cx0 = col === 0 ? 0 : left - 40;
  const cy0 = row === 0 ? 0 : top - 40;
  const cx1 = row === 0 && col === 0 ? 1210 : right + 40;
  const cy1 = row === 4 ? 1142 : bottom + 40;
  const w = cx1 - cx0, h = cy1 - cy0;
  useEffect(() => {
    const xv = COL_VARS[col];
    const yv = row === col ? "#" : ROW_VARS[row];
    const chart = new Chart(ref.current as HTMLCanvasElement, {
      type: "scatter",
      data: { datasets },
      options: {
        responsive: false, animation: false, devicePixelRatio: 1, events: [],
        layout: { padding: { left: left - cx0, right: cx1 - right, top: top - cy0, bottom: cy1 - bottom } },
        scales: {
          x: { type: "linear", display: false, min: AXES[xv].min, max: AXES[xv].max, reverse: !!AXES[xv].reverse },
          y: { type: "linear", display: false, min: AXES[yv].min, max: AXES[yv].max },
        },
        plugins: { legend: { display: false }, tooltip: { enabled: false } },
      },
      plugins: [makePlugin(row, col, cx0, cy0)],
    } as any);
    return () => chart.destroy();
  }, []);
  return (
    <canvas ref={ref} width={w} height={h}
      style={{ position: "absolute", left: cx0, top: cy0, width: w, height: h, pointerEvents: "none" }} />
  );
}

export default function App() {
  return (
    <div style={{ position: "absolute", left: 0, top: 0, width: 1210, height: 1142, background: "#fff", overflow: "hidden" }}>
      {PANELS.map((p) => <Panel key={`${p.row}-${p.col}`} row={p.row} col={p.col} datasets={p.datasets} />)}
    </div>
  );
}
